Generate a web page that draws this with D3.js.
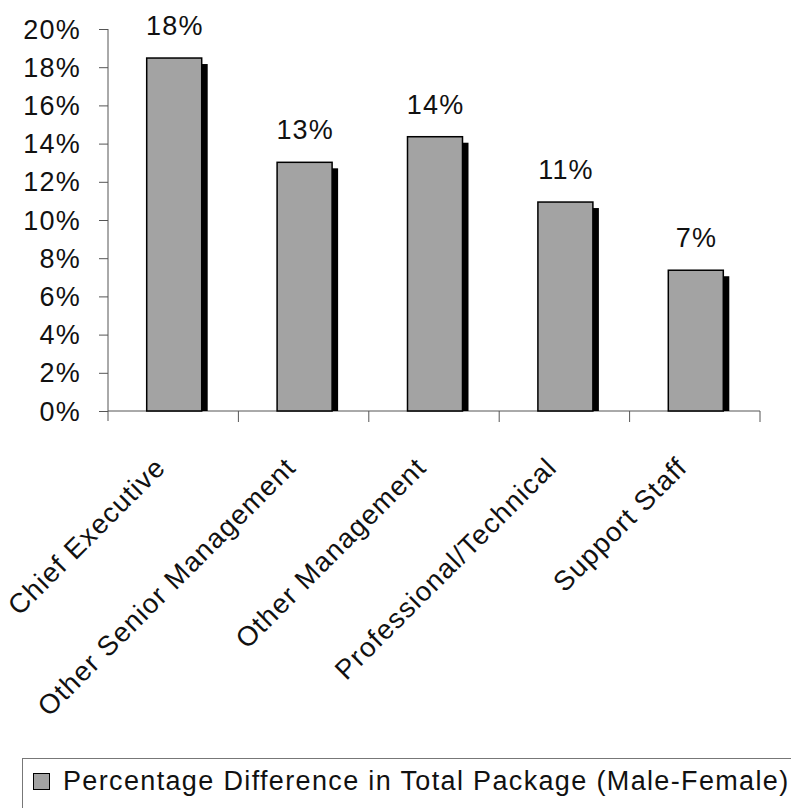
<!DOCTYPE html>
<html>
<head>
<meta charset="utf-8">
<script src="https://cdn.jsdelivr.net/npm/d3@7"></script>
<style>
  body { margin: 0; background: #fff; }
  text { font-family: "Liberation Sans", Arial, sans-serif; fill: #111; }
</style>
</head>
<body>
<div id="chart"></div>
<script>
// data
const categories = ["Chief Executive", "Other Senior Management", "Other Management", "Professional/Technical", "Support Staff"];
const values = [18.48, 13.02, 14.36, 10.94, 7.37];
const yTicks = [0, 2, 4, 6, 8, 10, 12, 14, 16, 18, 20];
const seriesName = "Percentage Difference in Total Package (Male-Female)";

const W = 791, H = 808;
const fontSize = 27, spacing = 1.2;

const svg = d3.select("#chart")
  .append("svg")
  .attr("width", W)
  .attr("height", H);

// scales
const x = d3.scaleBand()
  .domain(categories)
  .range([108, 760])
  .paddingInner(0)
  .paddingOuter(0);

const y = d3.scaleLinear()
  .domain([0, 20])
  .range([411, 29]);

const barW = 55, shadow = 6;

// y axis
const yAxis = d3.axisLeft(y)
  .tickValues(yTicks)
  .tickSize(9)
  .tickPadding(18)
  .tickFormat(d => d + "%");

const gy = svg.append("g")
  .attr("class", "y-axis")
  .attr("transform", "translate(108,0)")
  .call(yAxis);

gy.select(".domain").attr("stroke", "#555").attr("d", "M0,29V421");
gy.selectAll(".tick line").attr("stroke", "#555");
gy.selectAll(".tick text")
  .attr("font-size", fontSize)
  .attr("font-family", "Liberation Sans, Arial, sans-serif")
  .attr("letter-spacing", spacing)
  .attr("fill", "#111")
  .attr("dy", "0.34em");

// x axis line with ticks at category boundaries
const gx = svg.append("g").attr("class", "x-axis");
gx.append("line")
  .attr("x1", x.range()[0]).attr("x2", x.range()[1])
  .attr("y1", y(0)).attr("y2", y(0))
  .attr("stroke", "#555");

const bounds = categories.map(c => x(c)).concat([x.range()[1]]);
gx.selectAll("line.xt")
  .data(bounds.slice(1))
  .join("line")
  .attr("class", "xt")
  .attr("x1", d => d).attr("x2", d => d)
  .attr("y1", y(0)).attr("y2", y(0) + 11)
  .attr("stroke", "#555");

// bars
const bars = svg.append("g").attr("class", "bars")
  .selectAll("g")
  .data(categories.map((c, i) => ({ cat: c, v: values[i] })))
  .join("g");

const barX = d => x(d.cat) + (x.bandwidth() - barW) / 2 + 1;

bars.append("rect")
  .attr("x", d => barX(d) + shadow)
  .attr("y", d => y(d.v) + shadow)
  .attr("width", barW)
  .attr("height", d => y(0) - y(d.v) - shadow)
  .attr("fill", "#000");

bars.append("rect")
  .attr("x", barX)
  .attr("y", d => y(d.v))
  .attr("width", barW)
  .attr("height", d => y(0) - y(d.v))
  .attr("fill", "#a3a3a3")
  .attr("stroke", "#000")
  .attr("stroke-width", 1.5);

bars.append("text")
  .attr("x", d => barX(d) + barW / 2 + spacing / 2)
  .attr("y", d => y(d.v) - 23)
  .attr("text-anchor", "middle")
  .attr("font-size", fontSize)
  .attr("letter-spacing", spacing)
  .text(d => Math.round(d.v) + "%");

// category labels
svg.append("g").attr("class", "x-labels")
  .selectAll("text")
  .data(categories)
  .join("text")
  .attr("transform", d => `translate(${x(d) + x.bandwidth() / 2 - 6},${y(0) + 58}) rotate(-45)`)
  .attr("text-anchor", "end")
  .attr("font-size", 27.5)
  .attr("letter-spacing", 1.2)
  .text(d => d);

// legend
const legend = svg.append("g").attr("class", "legend");
legend.append("rect")
  .attr("x", 22.5).attr("y", 758.5)
  .attr("width", 800).attr("height", 80)
  .attr("fill", "none")
  .attr("stroke", "#777");
legend.append("rect")
  .attr("x", 33.5).attr("y", 773.5)
  .attr("width", 16).attr("height", 16)
  .attr("fill", "#a3a3a3")
  .attr("stroke", "#000");
legend.append("text")
  .attr("x", 63).attr("y", 790)
  .attr("font-size", fontSize)
  .attr("letter-spacing", 1.35)
  .text(seriesName);
</script>
</body>
</html>
